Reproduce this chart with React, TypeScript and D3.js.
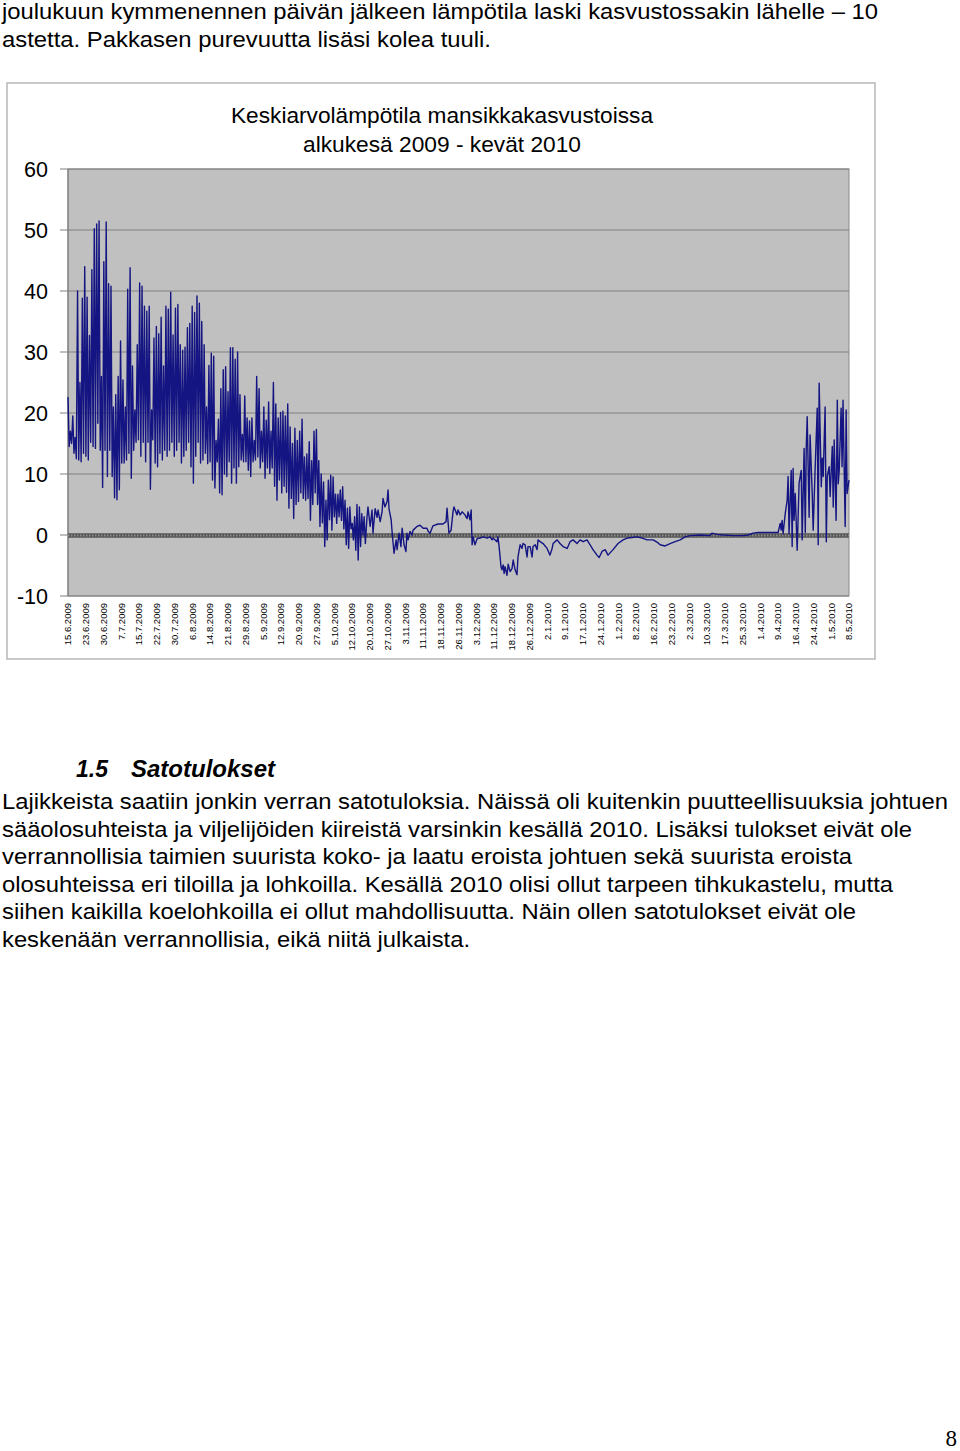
import React from "react";
import * as d3 from "d3";

// ---- Data ----
const yTicks = [-10, 0, 10, 20, 30, 40, 50, 60];

const xLabels = [
  "15.6.2009", "23.6.2009", "30.6.2009", "7.7.2009", "15.7.2009", "22.7.2009", "30.7.2009",
  "6.8.2009", "14.8.2009", "21.8.2009", "29.8.2009", "5.9.2009", "12.9.2009", "20.9.2009",
  "27.9.2009", "5.10.2009", "12.10.2009", "20.10.2009", "27.10.2009", "3.11.2009", "11.11.2009",
  "18.11.2009", "26.11.2009", "3.12.2009", "11.12.2009", "18.12.2009", "26.12.2009", "2.1.2010",
  "9.1.2010", "17.1.2010", "24.1.2010", "1.2.2010", "8.2.2010", "16.2.2010", "23.2.2010",
  "2.3.2010", "10.3.2010", "17.3.2010", "25.3.2010", "1.4.2010", "9.4.2010", "16.4.2010",
  "24.4.2010", "1.5.2010", "8.5.2010",
];

const TOTAL_DAYS = 327;

// Daily highs / lows, summer and autumn (day 0 = 15.6.2009)
const summerHigh = [
  22.6, 17, 19.5, 16, 40, 25, 38.8, 44, 39, 32.7,
  43.5, 50.2, 51, 51.5, 26, 44.8, 51.3, 41.2, 40.8, 21,
  23, 26, 31.8, 25.4, 21, 40.3, 43.8, 27.7, 20.5, 31.2,
  41.3, 40.8, 37.5, 36.7, 37.5, 20.5, 32.3, 34.2, 33, 35.7,
  27.7, 37.5, 37, 39.8, 32.8, 37.2, 37.8, 31.2, 30.3, 30.8,
  34, 34.7, 37.5, 36.5, 39.2, 38, 35, 31.2, 21, 27.8,
  29.8, 29.3, 15.5, 19, 24, 27.1, 27.6, 23.5, 30.7, 30.7,
  28.8, 30, 23, 16.5, 22.8, 19.2, 18.7, 19.2, 15.5, 26,
  24, 17, 21, 18.8, 21.8, 17, 25, 21.5, 19.2, 20.1,
  20.3, 19.5, 21.5, 17.7, 15, 17.5, 15.5, 17, 19, 12.8,
  13.3, 15.3, 12.2, 17, 17.3, 12.2, 10, 8.7, 5.7, 9,
  9.8, 9.5, 6.7, 6.7, 7.4, 7.9, 5.7, 4.4, 4.6, 1.9,
  3, 5, 4.6, 3.5, 3,
];

const summerLow = [
  14.5, 15, 13.4, 12.5, 12.3, 12, 13.4, 12.9, 12.3, 15.2,
  14.5, 14.2, 18.3, 13.9, 7.8, 13.9, 9.6, 13.9, 9.6, 6.1,
  5.8, 7.4, 11.8, 11.8, 12.3, 13.4, 9.3, 13.9, 15.2, 15.6,
  12.9, 15.2, 12, 15.2, 7.5, 15.6, 11.8, 11.2, 13.4, 12.3,
  13.9, 12.9, 13.9, 15.2, 12.9, 13.9, 15.2, 11.8, 12.9, 13.9,
  15.2, 11.2, 8.5, 12.9, 15.2, 11.8, 12.3, 13.4, 11.7, 12,
  9, 7.7, 12, 6.9, 6.6, 10, 9.6, 12, 8.5, 11,
  8.5, 11.2, 12.3, 12, 12, 10.6, 9.6, 12, 12.3, 12.8,
  11, 12, 9.3, 11, 10.1, 11, 8, 5.7, 9, 6.9,
  8, 7, 4.4, 6, 2.7, 5, 5.5, 6.9, 6, 5.7,
  6, 2.4, 5, 6.9, 5, 1.4, 2, -1.9, -0.8, 2.5,
  0.8, 3, 1.9, 3, 2.4, 1, -1.6, -2.2, 1, -0.8,
  -2.5, -4.1, -1.9, 0, -1.4,
];

// Winter readings (day, temperature)
const winterDay = [
  125.2, 125.6, 126.5, 127.3, 127.7, 128.6, 129.4, 129.8, 130.7, 131.5,
  131.9, 132.7, 133.6, 134, 134.4, 135.3, 135.7, 136.5, 137.4, 137.8,
  138.6, 139.4, 139.9, 140.7, 141.5, 141.9, 142.4, 143.2, 144, 144.5,
  146.1, 147.4, 148.7, 150.3, 150.8, 151.6, 152.8, 154.9, 157, 158.3,
  158.7, 159.5, 160.4, 161.2, 161.6, 162.9, 163.3, 164.2, 165, 166.2,
  167.1, 167.5, 168.3, 168.8, 169.2, 169.6, 170.4, 171.3, 172.5, 173.8,
  175.5, 176.7, 177.6, 178, 179.6, 180, 180.5, 181.3, 181.7, 182.2,
  182.6, 183, 183.8, 184.3, 185.1, 185.9, 186.4, 187.2, 188, 188.4,
  189.3, 190.1, 190.5, 191.4, 192.2, 192.6, 193.5, 194.3, 194.7, 195.6,
  196.4, 196.8, 197.7, 198.9, 200.6, 201.8, 202.7, 203.1, 204.8, 206,
  207.3, 209, 210.2, 211.5, 213.1, 214.4, 215.7, 217.3, 218.6, 219.8,
  221.5, 222.4, 223.6, 224.9, 226.1, 228.2, 230.3, 232.4, 234.1, 236.2,
  238.3, 240.4, 242.5, 245, 247.1, 247.9, 250, 252.1, 254.2, 256.3,
  258.4, 260.5, 264.7, 268.8, 269.6, 271.8, 274.3, 278.5, 282.7, 284.8,
  286.8, 288.9, 292.7, 297.3,
];
const winterTemp = [
  3, 4.6, 1.4, 4.1, 0.3, 4.3, 2.9, 4.1, 2.2, 3.8,
  6, 4.6, 5.5, 7.4, 4.3, 2.5, 0.5, -3, -0.8, -2.4,
  0.3, -1.9, 1.1, -1.6, -2.7, 0.3, -0.8, 0.6, 0, 0.8,
  1.4, 1.6, 1.1, 1.1, 0.6, 0.3, 1.5, 1.8, 1.8, 2.2,
  4.4, 0.3, 0.8, 3.8, 4.6, 3.3, 4.1, 3.3, 3.8, 3.3,
  2.7, 3.8, 2.5, 4.1, -1.6, -0.3, -1.6, -0.6, -0.5, -0.3,
  -0.5, -0.3, -0.8, -0.5, -1.1, -0.3, -1.9, -5.2, -5.7, -4.9,
  -6.3, -5.2, -6.6, -4.8, -6, -5.5, -4.1, -5.7, -6.5, -3.6,
  -1.6, -2.2, -1.4, -1.6, -3.6, -1.9, -1.9, -3.6, -1.9, -1.6,
  -2.4, -0.8, -1.1, -1.4, -2.2, -3.3, -2.2, -1.4, -0.8, -1.4,
  -1.9, -2.2, -1.1, -0.8, -1.4, -0.8, -1.1, -0.8, -1.6, -2.4,
  -3.3, -3.7, -2.7, -2.4, -3.3, -2.4, -1.4, -0.8, -0.5, -0.4,
  -0.3, -0.5, -0.8, -0.8, -1.3, -1.6, -1.8, -1.4, -1.1, -0.8,
  -0.3, -0.1, 0, -0.1, 0.3, 0.1, 0, -0.1, -0.1, 0,
  0.3, 0.4, 0.4, 0.4,
];

// Spring readings (day, temperature)
const springDay = [
  298.2, 298.6, 299, 299.4, 300.3, 301.1, 301.5, 301.9, 302.8, 303.2,
  303.6, 304, 304.5, 305.3, 306.1, 307, 307.4, 308.2, 308.7, 309.1,
  309.5, 310.3, 310.7, 311.6, 312, 312.8, 313.7, 314.1, 314.5, 315.4,
  315.8, 316.2, 317, 317.5, 317.9, 318.7, 319.1, 320, 320.4, 320.8,
  321.6, 322.1, 322.5, 322.9, 323.7, 324.1, 324.5, 325.4, 325.8, 326.2,
  327,
];
const springTemp = [
  1.9, 0.8, 2.4, 0.2, 3.5, 5.7, 9.6, 0.2, 10.6, -1.9,
  10.9, 2.4, 6.8, -2.5, 8.5, 10.6, -0.8, 14.2, 0.4, 14.4,
  19.4, 2.9, 16.4, 6.8, 0.8, 10.6, 20.8, -1.6, 24.9, 7.9,
  12.6, 9.6, 21, -1.1, 9.6, 11.2, 6.3, 14.5, 4.6, 15.6,
  2.4, 22.1, 8.4, 10.6, 20.8, 11.2, 22.1, 1.4, 20.5, 6.8,
  9,
];

const titleLines = ["Keskiarvolämpötila mansikkakasvustoissa", "alkukesä 2009 - kevät 2010"];

const topLines = [
  "joulukuun kymmenennen päivän jälkeen lämpötila laski kasvustossakin lähelle – 10",
  "astetta. Pakkasen purevuutta lisäsi kolea tuuli.",
];
const paragraph = [
  "Lajikkeista saatiin jonkin verran satotuloksia. Näissä oli kuitenkin puutteellisuuksia johtuen",
  "sääolosuhteista ja viljelijöiden kiireistä varsinkin kesällä 2010. Lisäksi tulokset eivät ole",
  "verrannollisia taimien suurista koko- ja laatu eroista johtuen sekä suurista eroista",
  "olosuhteissa eri tiloilla ja lohkoilla. Kesällä 2010 olisi ollut tarpeen tihkukastelu, mutta",
  "siihen kaikilla koelohkoilla ei ollut mahdollisuutta. Näin ollen satotulokset eivät ole",
  "keskenään verrannollisia, eikä niitä julkaista.",
];

// ---- layout ----
const W = 960;
const H = 1451;
const PL = 68, PR = 849, PT = 169, PB = 596;
const SANS = "'Liberation Sans', Arial, Helvetica, sans-serif";

const topWidths = [876, 489];
const titleWidths = [422, 278];
const paraWidths = [946, 910, 850, 891, 854, 468];

export default function App() {
  const x = d3.scaleLinear().domain([0, TOTAL_DAYS]).range([PL, PR]);
  const y = d3.scaleLinear().domain([-10, 60]).range([PB, PT]);

  const pts: [number, number][] = [];
  summerHigh.forEach((v, i) => {
    pts.push([i, v]);
    pts.push([i + 0.5, summerLow[i]]);
  });
  winterDay.forEach((d, i) => pts.push([d, winterTemp[i]]));
  springDay.forEach((d, i) => pts.push([d, springTemp[i]]));

  const line = d3
    .line<[number, number]>()
    .x((d) => x(d[0]))
    .y((d) => y(d[1]));

  const labelStep = TOTAL_DAYS / (xLabels.length - 1);

  return (
    <svg
      width={W}
      height={H}
      viewBox={`0 0 ${W} ${H}`}
      style={{ position: "absolute", left: 0, top: 0, display: "block", background: "#fff" }}
    >
      {/* page text above */}
      {topLines.map((t, i) => (
        <text
          key={i}
          x={2}
          y={19 + i * 28}
          fontFamily={SANS}
          fontSize={22}
          textLength={topWidths[i]}
          lengthAdjust="spacingAndGlyphs"
          fill="#000"
        >
          {t}
        </text>
      ))}

      {/* chart frame */}
      <rect x={7} y={83} width={868} height={576} fill="#fff" stroke="#b8b8b8" strokeWidth={1.5} />
      {titleLines.map((t, i) => (
        <text
          key={i}
          x={442}
          y={123 + i * 28.5}
          textAnchor="middle"
          fontFamily={SANS}
          fontSize={22.5}
          textLength={titleWidths[i]}
          lengthAdjust="spacingAndGlyphs"
          fill="#000"
        >
          {t}
        </text>
      ))}

      {/* plot area */}
      <rect x={PL} y={PT} width={PR - PL} height={PB - PT} fill="#c0c0c0" stroke="#8a8a8a" strokeWidth={1} />
      {yTicks.map((t) => (
        <g key={t}>
          <line x1={60} x2={PR} y1={y(t)} y2={y(t)} stroke="#808080" strokeWidth={1} />
          <text
            x={48}
            y={y(t)}
            dy="0.36em"
            textAnchor="end"
            fontFamily={SANS}
            fontSize={21.5}
            fill="#000"
          >
            {t}
          </text>
        </g>
      ))}
      <line x1={PL} x2={PL} y1={PT} y2={PB} stroke="#808080" strokeWidth={1.2} />

      {/* zero reference line (patterned) */}
      <line x1={PL} x2={PR} y1={y(0) + 0.5} y2={y(0) + 0.5} stroke="#555555" strokeWidth={4.5} />
      <line
        x1={PL}
        x2={PR}
        y1={y(0) + 0.5}
        y2={y(0) + 0.5}
        stroke="#8c8c8c"
        strokeWidth={1.8}
        strokeDasharray="1.5 1.5"
      />

      {/* temperature line */}
      <path d={line(pts) || ""} fill="none" stroke="#141482" strokeWidth={1.4} strokeLinejoin="round" />

      {/* x labels */}
      {xLabels.map((l, i) => {
        const px = x(i * labelStep);
        return (
          <text
            key={l}
            transform={`translate(${px},603) rotate(-90)`}
            dy="0.35em"
            textAnchor="end"
            fontFamily={SANS}
            fontSize={9.5}
            fill="#000"
          >
            {l}
          </text>
        );
      })}

      {/* section heading */}
      <text x={76} y={777} fontFamily={SANS} fontSize={23} fontWeight="bold" fontStyle="italic" fill="#000">
        1.5
      </text>
      <text
        x={131}
        y={777}
        fontFamily={SANS}
        fontSize={23}
        fontWeight="bold"
        fontStyle="italic"
        textLength={144}
        lengthAdjust="spacingAndGlyphs"
        fill="#000"
      >
        Satotulokset
      </text>

      {paragraph.map((t, i) => (
        <text
          key={i}
          x={2}
          y={809 + i * 27.6}
          fontFamily={SANS}
          fontSize={22}
          textLength={paraWidths[i]}
          lengthAdjust="spacingAndGlyphs"
          fill="#000"
        >
          {t}
        </text>
      ))}

      {/* page number */}
      <text
        x={957}
        y={1446}
        textAnchor="end"
        fontFamily="'Liberation Serif', 'Times New Roman', serif"
        fontSize={23}
        fill="#000"
      >
        8
      </text>
    </svg>
  );
}
